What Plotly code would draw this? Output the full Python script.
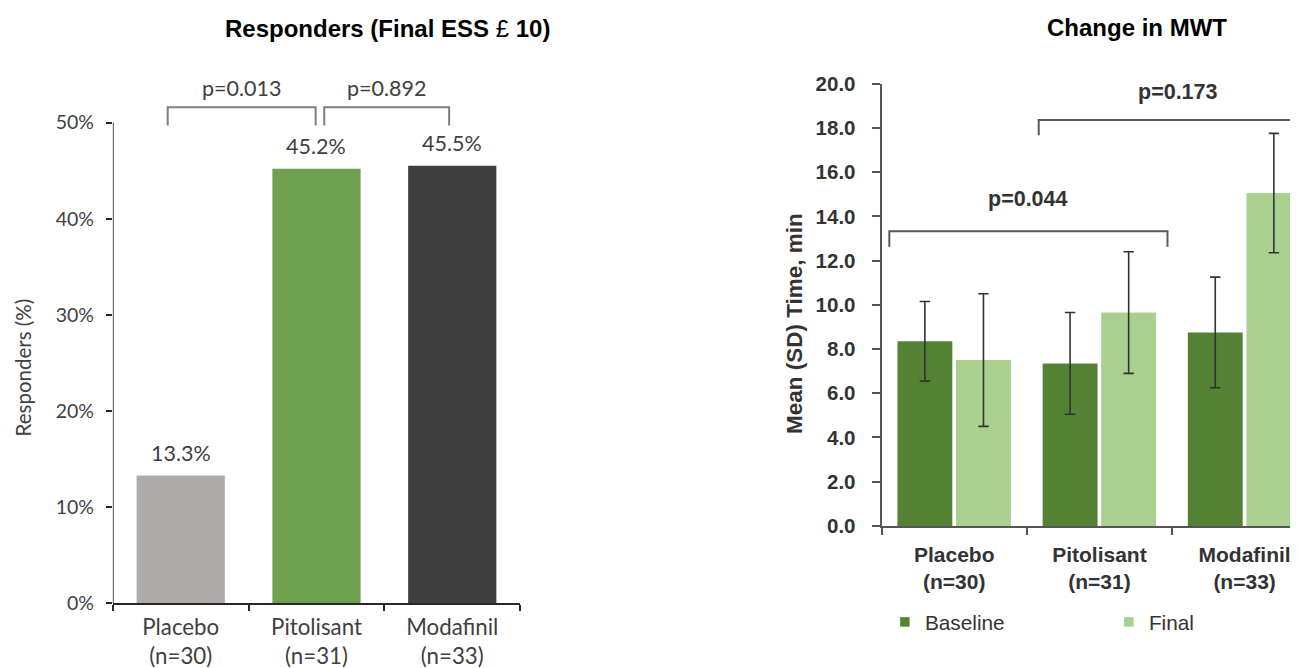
import plotly.graph_objects as go

# ---------------- data ----------------
groups = ["Placebo<br>(n=30)", "Pitolisant<br>(n=31)", "Modafinil<br>(n=33)"]
groups_bold = ["<b>Placebo</b><br><b>(n=30)</b>", "<b>Pitolisant</b><br><b>(n=31)</b>", "<b>Modafinil</b><br><b>(n=33)</b>"]

responders_pct = [13.3, 45.2, 45.5]
responders_colors = ["#AFABAB", "#70A150", "#404040"]
responders_pvals = ["p=0.013", "p=0.892"]

mwt_baseline = [8.35, 7.35, 8.75]
mwt_baseline_sd = [1.8, 2.3, 2.5]
mwt_final = [7.5, 9.65, 15.05]
mwt_final_sd = [3.0, 2.75, 2.7]
mwt_pvals = ["p=0.044", "p=0.173"]

left_yticks = [0, 10, 20, 30, 40, 50]
right_yticks = [0, 2, 4, 6, 8, 10, 12, 14, 16, 18, 20]

# ---------------- geometry helpers ----------------
# observed mapping from figure pixels to photographed pixels
FW, FH = 1333, 672
AX_, BX_ = 0.989, 8.0          # screen_x = AX_ * fig_x + BX_
SY, OY = 0.968, 18.5           # screen_y = SY * (fig_y + OY)


def fx(Xs):
    return ((Xs - BX_) / AX_) / FW


def fy(Ys):
    return 1 - (Ys / SY - OY) / FH


LFONT = "Lato"
RFONT = "Liberation Sans"
LCOL = "#404040"
RCOL = "#333333"

fig = go.Figure()

# ---------------- left chart ----------------
fig.add_trace(go.Bar(
    x=groups, y=responders_pct, width=0.65,
    marker=dict(color=responders_colors, line=dict(width=0)),
    xaxis="x", yaxis="y", showlegend=False, hoverinfo="x+y",
))

# ---------------- right chart ----------------
fig.add_trace(go.Bar(
    x=groups_bold, y=mwt_baseline, name="Baseline",
    offset=-0.391, width=0.378,
    marker=dict(color="#548235", line=dict(width=0)),
    error_y=dict(type="data", array=mwt_baseline_sd, color="#333333", thickness=1.6, width=5.2),
    xaxis="x2", yaxis="y2", showlegend=False,
))
fig.add_trace(go.Bar(
    x=groups_bold, y=mwt_final, name="Final",
    offset=0.0125, width=0.378,
    marker=dict(color="#A9D08E", line=dict(width=0)),
    error_y=dict(type="data", array=mwt_final_sd, color="#333333", thickness=1.6, width=5.2),
    xaxis="x2", yaxis="y2", showlegend=False,
))
# legend entries (small square markers)
for nm, col in [("Baseline", "#548235"), ("Final", "#A9D08E")]:
    fig.add_trace(go.Scatter(
        x=[None], y=[None], mode="markers", name=nm,
        marker=dict(symbol="square", size=9.5, color=col),
        xaxis="x2", yaxis="y2", showlegend=True,
    ))

annotations = []
shapes = []

# data labels left
for i, v in enumerate(responders_pct):
    annotations.append(dict(
        x=i, y=v, xref="x", yref="y", text=f"{v:.1f}%", showarrow=False,
        xanchor="center", yanchor="middle", yshift=22.7,
        font=dict(family=LFONT, size=21.5, color=LCOL),
    ))

# left brackets
lb = [(-0.096, 0.994), (1.057, 1.977)]
for (x0, x1), p in zip(lb, responders_pvals):
    shapes.append(dict(type="path", xref="x", yref="y",
                       path=f"M {x0},49.7 L {x0},51.6 L {x1},51.6 L {x1},49.7",
                       line=dict(color="#7F7F7F", width=2)))
    annotations.append(dict(x=(x0 + x1) / 2, y=53.6, xref="x", yref="y", text=p,
                            xanchor="center", yanchor="middle",
                            showarrow=False, font=dict(family=LFONT, size=21.5, color=LCOL)))

# left y axis line (0 to 50)
shapes.append(dict(type="line", xref="x", yref="y", x0=-0.5, x1=-0.5, y0=0, y1=50,
                   line=dict(color="#262626", width=1.6)))

# right brackets
shapes.append(dict(type="path", xref="x2", yref="y2",
                   path="M -0.447,12.63 L -0.447,13.33 L 1.469,13.33 L 1.469,12.63",
                   line=dict(color="#595959", width=2)))
shapes.append(dict(type="path", xref="x2", yref="y2",
                   path="M 0.582,17.67 L 0.582,18.36 L 3.0,18.36",
                   line=dict(color="#595959", width=2)))
annotations.append(dict(x=0.508, y=14.77, xref="x2", yref="y2", text="<b>" + mwt_pvals[0] + "</b>",
                        xanchor="center", yanchor="middle",
                        showarrow=False, font=dict(family=RFONT, size=21.5, color=RCOL)))
annotations.append(dict(x=1.543, y=19.61, xref="x2", yref="y2", text="<b>" + mwt_pvals[1] + "</b>",
                        xanchor="center", yanchor="middle",
                        showarrow=False, font=dict(family=RFONT, size=21.5, color=RCOL)))

# titles
annotations.append(dict(x=fx(383), y=fy(26), xref="paper", yref="paper",
                        xanchor="center", yanchor="middle",
                        text="<b>Responders (Final ESS </b>£<b> 10)</b>", showarrow=False,
                        font=dict(family=RFONT, size=24, color="#000000")))
annotations.append(dict(x=fx(1125), y=fy(25), xref="paper", yref="paper",
                        xanchor="center", yanchor="middle",
                        text="<b>Change in MWT</b>", showarrow=False,
                        font=dict(family=RFONT, size=24, color="#000000")))
# y titles
annotations.append(dict(x=fx(23), y=fy(366), xref="paper", yref="paper",
                        xanchor="center", yanchor="middle",
                        text="Responders (%)", textangle=-90, showarrow=False,
                        font=dict(family=LFONT, size=20.5, color=LCOL)))
annotations.append(dict(x=fx(786), y=fy(322), xref="paper", yref="paper",
                        xanchor="center", yanchor="middle",
                        text="<b>Mean (SD) Time, min</b>", textangle=-90, showarrow=False,
                        font=dict(family=RFONT, size=22.5, color=RCOL)))

# reference axis positions (screen px)
L_AX, L_END = 111.7, 514.5
L0, L50 = 602.7, 120.7
PPU_L = (L0 - L50) / 50
R0, R20 = 525, 81.7
R_UNIT = 143.6
R_AX = 872
R_EDGE = AX_ * FW + BX_

# legend: symbol centre sits 21 px and text 42 px right of the legend x (figure px)
LEG_X = (896 - BX_) / AX_ - 21

fig.update_layout(
    width=FW, height=FH,
    margin=dict(l=0, r=0, t=0, b=0),
    paper_bgcolor="white", plot_bgcolor="white",
    barmode="overlay",
    xaxis=dict(domain=[fx(L_AX), fx(L_END)], anchor="y", type="category",
               range=[-0.5, 2.5], showline=True, linecolor="#262626", linewidth=1.6,
               ticks="outside", tickson="boundaries", ticklen=6, tickcolor="#262626", tickwidth=1.6,
               showgrid=False, zeroline=False, ticklabelstandoff=3,
               tickfont=dict(family=LFONT, size=22.3, color=LCOL)),
    yaxis=dict(domain=[fy(L0), fy(L0 - 56 * PPU_L)], anchor="x",
               range=[0, 56], tickvals=left_yticks, ticktext=[f"{v}%" for v in left_yticks],
               showline=False, ticks="outside", ticklen=6, tickcolor="#262626", tickwidth=1.6,
               showgrid=False, zeroline=False, ticklabelstandoff=8,
               tickfont=dict(family=LFONT, size=19.5, color=LCOL)),
    xaxis2=dict(domain=[fx(R_AX), 1.0], anchor="y2", type="category",
                range=[-0.5, -0.5 + (R_EDGE - R_AX) / R_UNIT], showline=True, linecolor="#555555", linewidth=2,
                ticks="outside", tickson="boundaries", ticklen=7, tickcolor="#555555", tickwidth=2,
                showgrid=False, zeroline=False, ticklabelstandoff=9,
                tickfont=dict(family=RFONT, size=21, color=RCOL)),
    yaxis2=dict(domain=[fy(R0), fy(R20)], anchor="x2",
                range=[0, 20], tickvals=right_yticks, ticktext=[f"<b>{v:.1f}</b>" for v in right_yticks],
                showline=True, linecolor="#555555", linewidth=2,
                ticks="outside", ticklen=8, tickcolor="#555555", tickwidth=2,
                showgrid=False, zeroline=False, ticklabelstandoff=12,
                tickfont=dict(family=RFONT, size=20.5, color=RCOL)),
    legend=dict(orientation="h", x=LEG_X / FW, xanchor="left", y=fy(621.7), yanchor="middle",
                font=dict(family=RFONT, size=20.8, color=RCOL), bgcolor="rgba(0,0,0,0)",
                entrywidth=179, entrywidthmode="pixels", itemclick=False),
    annotations=annotations, shapes=shapes,
)

fig.write_html("out.html")
